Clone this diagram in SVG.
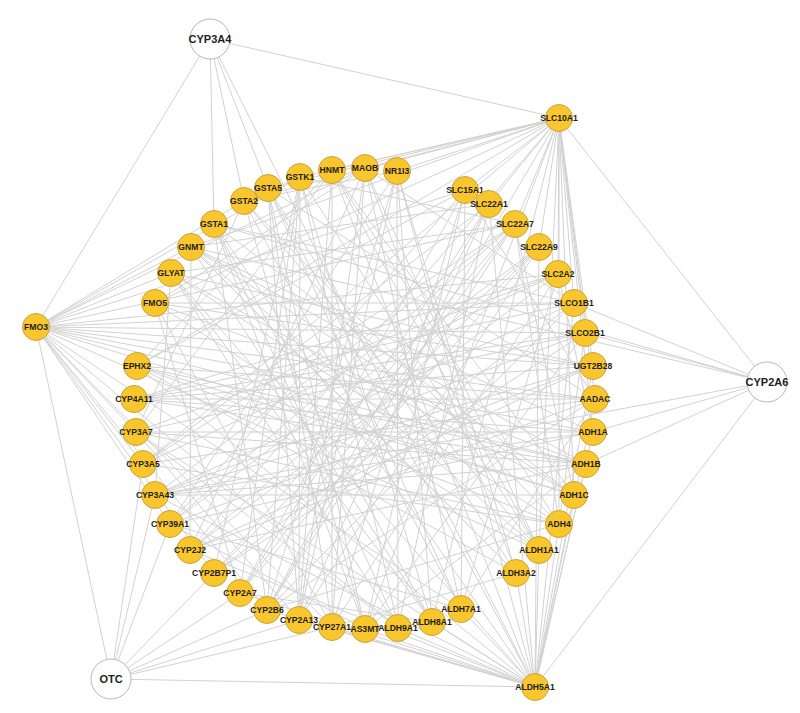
<svg xmlns="http://www.w3.org/2000/svg" width="800" height="713" viewBox="0 0 800 713">
<style>
.bg{fill:#ffffff}
#edges line{stroke:#d2d2d2;stroke-width:1;fill:none}
.node circle{fill:#f9c62e;stroke:#c9a43c;stroke-width:1}
.node text{font-family:"Liberation Sans",Arial,sans-serif;font-size:8.6px;font-weight:bold;fill:#1e1e1e;text-anchor:middle}
.outer circle{fill:#ffffff;stroke:#b8b8b8;stroke-width:1}
.outer text{font-family:"Liberation Sans",Arial,sans-serif;font-size:11px;font-weight:bold;fill:#1e1e1e;text-anchor:middle}
</style>
<rect class="bg" x="0" y="0" width="800" height="713"/>
<g id="edges">
<line x1="155" y1="303" x2="593" y2="366"/>
<line x1="171" y1="273" x2="515" y2="224"/>
<line x1="191" y1="247" x2="586" y2="464"/>
<line x1="214" y1="224" x2="574" y2="303"/>
<line x1="244" y1="201" x2="539" y2="550"/>
<line x1="268" y1="188" x2="595" y2="399"/>
<line x1="300" y1="177" x2="432" y2="622"/>
<line x1="332" y1="170" x2="574" y2="495"/>
<line x1="365" y1="168" x2="332" y2="627"/>
<line x1="397" y1="171" x2="516" y2="573"/>
<line x1="465" y1="190" x2="240" y2="593"/>
<line x1="489" y1="204" x2="398" y2="628"/>
<line x1="515" y1="224" x2="559" y2="524"/>
<line x1="539" y1="247" x2="299" y2="620"/>
<line x1="558" y1="274" x2="461" y2="609"/>
<line x1="574" y1="303" x2="214" y2="573"/>
<line x1="585" y1="333" x2="365" y2="629"/>
<line x1="593" y1="366" x2="155" y2="495"/>
<line x1="595" y1="399" x2="267" y2="610"/>
<line x1="593" y1="432" x2="134" y2="399"/>
<line x1="586" y1="464" x2="190" y2="550"/>
<line x1="574" y1="495" x2="171" y2="273"/>
<line x1="559" y1="524" x2="143" y2="464"/>
<line x1="539" y1="550" x2="332" y2="170"/>
<line x1="516" y1="573" x2="137" y2="366"/>
<line x1="461" y1="609" x2="170" y2="524"/>
<line x1="432" y1="622" x2="191" y2="247"/>
<line x1="398" y1="628" x2="136" y2="432"/>
<line x1="365" y1="629" x2="268" y2="188"/>
<line x1="332" y1="627" x2="155" y2="303"/>
<line x1="299" y1="620" x2="365" y2="168"/>
<line x1="267" y1="610" x2="214" y2="224"/>
<line x1="240" y1="593" x2="489" y2="204"/>
<line x1="214" y1="573" x2="300" y2="177"/>
<line x1="190" y1="550" x2="558" y2="274"/>
<line x1="170" y1="524" x2="397" y2="171"/>
<line x1="155" y1="495" x2="585" y2="333"/>
<line x1="143" y1="464" x2="515" y2="224"/>
<line x1="136" y1="432" x2="332" y2="170"/>
<line x1="134" y1="399" x2="574" y2="303"/>
<line x1="137" y1="366" x2="465" y2="190"/>
<line x1="155" y1="303" x2="586" y2="464"/>
<line x1="171" y1="273" x2="432" y2="622"/>
<line x1="191" y1="247" x2="574" y2="495"/>
<line x1="214" y1="224" x2="398" y2="628"/>
<line x1="244" y1="201" x2="559" y2="524"/>
<line x1="268" y1="188" x2="299" y2="620"/>
<line x1="300" y1="177" x2="539" y2="550"/>
<line x1="332" y1="170" x2="332" y2="627"/>
<line x1="365" y1="168" x2="516" y2="573"/>
<line x1="397" y1="171" x2="299" y2="620"/>
<line x1="465" y1="190" x2="461" y2="609"/>
<line x1="489" y1="204" x2="267" y2="610"/>
<line x1="515" y1="224" x2="170" y2="524"/>
<line x1="539" y1="247" x2="240" y2="593"/>
<line x1="558" y1="274" x2="136" y2="432"/>
<line x1="574" y1="303" x2="155" y2="495"/>
<line x1="585" y1="333" x2="134" y2="399"/>
<line x1="593" y1="366" x2="190" y2="550"/>
<line x1="595" y1="399" x2="137" y2="366"/>
<line x1="593" y1="432" x2="170" y2="524"/>
<line x1="586" y1="464" x2="136" y2="432"/>
<line x1="574" y1="495" x2="155" y2="495"/>
<line x1="559" y1="524" x2="171" y2="273"/>
<line x1="539" y1="550" x2="365" y2="168"/>
<line x1="516" y1="573" x2="191" y2="247"/>
<line x1="461" y1="609" x2="365" y2="168"/>
<line x1="432" y1="622" x2="214" y2="224"/>
<line x1="398" y1="628" x2="397" y2="171"/>
<line x1="365" y1="629" x2="244" y2="201"/>
<line x1="332" y1="627" x2="465" y2="190"/>
<line x1="299" y1="620" x2="300" y2="177"/>
<line x1="267" y1="610" x2="515" y2="224"/>
<line x1="240" y1="593" x2="300" y2="177"/>
<line x1="214" y1="573" x2="515" y2="224"/>
<line x1="190" y1="550" x2="595" y2="399"/>
<line x1="170" y1="524" x2="539" y2="247"/>
<line x1="155" y1="495" x2="593" y2="432"/>
<line x1="143" y1="464" x2="558" y2="274"/>
<line x1="136" y1="432" x2="593" y2="432"/>
<line x1="134" y1="399" x2="593" y2="366"/>
<line x1="137" y1="366" x2="574" y2="495"/>
<line x1="155" y1="303" x2="539" y2="550"/>
<line x1="171" y1="273" x2="398" y2="628"/>
<line x1="191" y1="247" x2="516" y2="573"/>
<line x1="214" y1="224" x2="365" y2="629"/>
<line x1="244" y1="201" x2="461" y2="609"/>
<line x1="268" y1="188" x2="332" y2="627"/>
<line x1="300" y1="177" x2="267" y2="610"/>
<line x1="332" y1="170" x2="299" y2="620"/>
<line x1="365" y1="168" x2="190" y2="550"/>
<line x1="397" y1="171" x2="267" y2="610"/>
<line x1="465" y1="190" x2="170" y2="524"/>
<line x1="489" y1="204" x2="143" y2="464"/>
<line x1="515" y1="224" x2="155" y2="495"/>
<line x1="539" y1="247" x2="214" y2="573"/>
<line x1="558" y1="274" x2="134" y2="399"/>
<line x1="574" y1="303" x2="155" y2="303"/>
<line x1="585" y1="333" x2="136" y2="432"/>
<line x1="593" y1="366" x2="171" y2="273"/>
<line x1="595" y1="399" x2="134" y2="399"/>
<line x1="593" y1="432" x2="191" y2="247"/>
<line x1="586" y1="464" x2="137" y2="366"/>
<line x1="574" y1="495" x2="214" y2="224"/>
<line x1="559" y1="524" x2="332" y2="170"/>
<line x1="539" y1="550" x2="191" y2="247"/>
<line x1="516" y1="573" x2="268" y2="188"/>
<line x1="461" y1="609" x2="268" y2="188"/>
<line x1="432" y1="622" x2="397" y2="171"/>
<line x1="398" y1="628" x2="300" y2="177"/>
<line x1="365" y1="629" x2="465" y2="190"/>
<line x1="332" y1="627" x2="558" y2="274"/>
<line x1="299" y1="620" x2="489" y2="204"/>
<line x1="267" y1="610" x2="574" y2="303"/>
<line x1="240" y1="593" x2="515" y2="224"/>
<line x1="214" y1="573" x2="585" y2="333"/>
<line x1="190" y1="550" x2="539" y2="247"/>
<line x1="170" y1="524" x2="593" y2="366"/>
<line x1="155" y1="495" x2="586" y2="464"/>
<line x1="143" y1="464" x2="595" y2="399"/>
<line x1="136" y1="432" x2="559" y2="524"/>
<line x1="134" y1="399" x2="586" y2="464"/>
<line x1="137" y1="366" x2="559" y2="524"/>
<line x1="155" y1="303" x2="365" y2="168"/>
<line x1="191" y1="247" x2="489" y2="204"/>
<line x1="244" y1="201" x2="397" y2="171"/>
<line x1="300" y1="177" x2="515" y2="224"/>
<line x1="365" y1="168" x2="574" y2="303"/>
<line x1="465" y1="190" x2="595" y2="399"/>
<line x1="515" y1="224" x2="574" y2="495"/>
<line x1="558" y1="274" x2="593" y2="432"/>
<line x1="585" y1="333" x2="559" y2="524"/>
<line x1="595" y1="399" x2="461" y2="609"/>
<line x1="586" y1="464" x2="365" y2="629"/>
<line x1="559" y1="524" x2="267" y2="610"/>
<line x1="516" y1="573" x2="332" y2="627"/>
<line x1="432" y1="622" x2="240" y2="593"/>
<line x1="365" y1="629" x2="170" y2="524"/>
<line x1="299" y1="620" x2="136" y2="432"/>
<line x1="240" y1="593" x2="155" y2="303"/>
<line x1="190" y1="550" x2="191" y2="247"/>
<line x1="155" y1="495" x2="171" y2="273"/>
<line x1="136" y1="432" x2="244" y2="201"/>
<line x1="137" y1="366" x2="332" y2="170"/>
<line x1="36" y1="327" x2="171" y2="273"/>
<line x1="36" y1="327" x2="191" y2="247"/>
<line x1="36" y1="327" x2="244" y2="201"/>
<line x1="36" y1="327" x2="300" y2="177"/>
<line x1="36" y1="327" x2="365" y2="168"/>
<line x1="36" y1="327" x2="465" y2="190"/>
<line x1="36" y1="327" x2="515" y2="224"/>
<line x1="36" y1="327" x2="558" y2="274"/>
<line x1="36" y1="327" x2="574" y2="303"/>
<line x1="36" y1="327" x2="585" y2="333"/>
<line x1="36" y1="327" x2="593" y2="366"/>
<line x1="36" y1="327" x2="595" y2="399"/>
<line x1="36" y1="327" x2="593" y2="432"/>
<line x1="36" y1="327" x2="586" y2="464"/>
<line x1="36" y1="327" x2="574" y2="495"/>
<line x1="36" y1="327" x2="539" y2="550"/>
<line x1="36" y1="327" x2="461" y2="609"/>
<line x1="36" y1="327" x2="398" y2="628"/>
<line x1="36" y1="327" x2="332" y2="627"/>
<line x1="36" y1="327" x2="267" y2="610"/>
<line x1="36" y1="327" x2="214" y2="573"/>
<line x1="36" y1="327" x2="170" y2="524"/>
<line x1="36" y1="327" x2="143" y2="464"/>
<line x1="36" y1="327" x2="136" y2="432"/>
<line x1="36" y1="327" x2="210" y2="39"/>
<line x1="36" y1="327" x2="111" y2="679"/>
<line x1="559" y1="118" x2="155" y2="303"/>
<line x1="559" y1="118" x2="191" y2="247"/>
<line x1="559" y1="118" x2="244" y2="201"/>
<line x1="559" y1="118" x2="268" y2="188"/>
<line x1="559" y1="118" x2="300" y2="177"/>
<line x1="559" y1="118" x2="332" y2="170"/>
<line x1="559" y1="118" x2="365" y2="168"/>
<line x1="559" y1="118" x2="397" y2="171"/>
<line x1="559" y1="118" x2="465" y2="190"/>
<line x1="559" y1="118" x2="489" y2="204"/>
<line x1="559" y1="118" x2="515" y2="224"/>
<line x1="559" y1="118" x2="539" y2="247"/>
<line x1="559" y1="118" x2="558" y2="274"/>
<line x1="559" y1="118" x2="574" y2="303"/>
<line x1="559" y1="118" x2="585" y2="333"/>
<line x1="559" y1="118" x2="593" y2="366"/>
<line x1="559" y1="118" x2="595" y2="399"/>
<line x1="559" y1="118" x2="593" y2="432"/>
<line x1="559" y1="118" x2="574" y2="495"/>
<line x1="559" y1="118" x2="559" y2="524"/>
<line x1="559" y1="118" x2="539" y2="550"/>
<line x1="559" y1="118" x2="432" y2="622"/>
<line x1="559" y1="118" x2="365" y2="629"/>
<line x1="559" y1="118" x2="267" y2="610"/>
<line x1="559" y1="118" x2="190" y2="550"/>
<line x1="559" y1="118" x2="143" y2="464"/>
<line x1="559" y1="118" x2="137" y2="366"/>
<line x1="559" y1="118" x2="210" y2="39"/>
<line x1="559" y1="118" x2="767" y2="382"/>
<line x1="535" y1="687" x2="171" y2="273"/>
<line x1="535" y1="687" x2="214" y2="224"/>
<line x1="535" y1="687" x2="268" y2="188"/>
<line x1="535" y1="687" x2="332" y2="170"/>
<line x1="535" y1="687" x2="397" y2="171"/>
<line x1="535" y1="687" x2="489" y2="204"/>
<line x1="535" y1="687" x2="539" y2="247"/>
<line x1="535" y1="687" x2="574" y2="303"/>
<line x1="535" y1="687" x2="593" y2="366"/>
<line x1="535" y1="687" x2="595" y2="399"/>
<line x1="535" y1="687" x2="593" y2="432"/>
<line x1="535" y1="687" x2="586" y2="464"/>
<line x1="535" y1="687" x2="574" y2="495"/>
<line x1="535" y1="687" x2="559" y2="524"/>
<line x1="535" y1="687" x2="539" y2="550"/>
<line x1="535" y1="687" x2="516" y2="573"/>
<line x1="535" y1="687" x2="461" y2="609"/>
<line x1="535" y1="687" x2="432" y2="622"/>
<line x1="535" y1="687" x2="398" y2="628"/>
<line x1="535" y1="687" x2="365" y2="629"/>
<line x1="535" y1="687" x2="332" y2="627"/>
<line x1="535" y1="687" x2="299" y2="620"/>
<line x1="535" y1="687" x2="267" y2="610"/>
<line x1="535" y1="687" x2="240" y2="593"/>
<line x1="535" y1="687" x2="190" y2="550"/>
<line x1="535" y1="687" x2="155" y2="495"/>
<line x1="535" y1="687" x2="136" y2="432"/>
<line x1="535" y1="687" x2="137" y2="366"/>
<line x1="535" y1="687" x2="111" y2="679"/>
<line x1="535" y1="687" x2="767" y2="382"/>
<line x1="535" y1="687" x2="210" y2="39"/>
<line x1="111" y1="679" x2="143" y2="464"/>
<line x1="111" y1="679" x2="155" y2="495"/>
<line x1="111" y1="679" x2="170" y2="524"/>
<line x1="111" y1="679" x2="214" y2="573"/>
<line x1="111" y1="679" x2="240" y2="593"/>
<line x1="111" y1="679" x2="267" y2="610"/>
<line x1="111" y1="679" x2="299" y2="620"/>
<line x1="111" y1="679" x2="332" y2="627"/>
<line x1="767" y1="382" x2="574" y2="303"/>
<line x1="767" y1="382" x2="585" y2="333"/>
<line x1="767" y1="382" x2="214" y2="224"/>
<line x1="767" y1="382" x2="191" y2="247"/>
<line x1="767" y1="382" x2="593" y2="432"/>
<line x1="767" y1="382" x2="586" y2="464"/>
<line x1="767" y1="382" x2="155" y2="495"/>
<line x1="210" y1="39" x2="214" y2="224"/>
<line x1="210" y1="39" x2="244" y2="201"/>
<line x1="210" y1="39" x2="268" y2="188"/>
</g>
<g id="n-CYP3A4" class="outer"><circle cx="210" cy="39" r="20"/><text x="210" y="43">CYP3A4</text></g>
<g id="n-CYP2A6" class="outer"><circle cx="767" cy="382" r="20"/><text x="767" y="386">CYP2A6</text></g>
<g id="n-OTC" class="outer"><circle cx="111" cy="679" r="20"/><text x="111" y="683">OTC</text></g>
<g id="n-FMO3" class="node"><circle cx="36" cy="327" r="13.5"/><text x="36" y="330">FMO3</text></g>
<g id="n-SLC10A1" class="node"><circle cx="559" cy="118" r="13.5"/><text x="559" y="121">SLC10A1</text></g>
<g id="n-ALDH5A1" class="node"><circle cx="535" cy="687" r="13.5"/><text x="535" y="690">ALDH5A1</text></g>
<g id="n-FMO5" class="node"><circle cx="155" cy="303" r="13.5"/><text x="155" y="306">FMO5</text></g>
<g id="n-GLYAT" class="node"><circle cx="171" cy="273" r="13.5"/><text x="171" y="276">GLYAT</text></g>
<g id="n-GNMT" class="node"><circle cx="191" cy="247" r="13.5"/><text x="191" y="250">GNMT</text></g>
<g id="n-GSTA1" class="node"><circle cx="214" cy="224" r="13.5"/><text x="214" y="227">GSTA1</text></g>
<g id="n-GSTA2" class="node"><circle cx="244" cy="201" r="13.5"/><text x="244" y="204">GSTA2</text></g>
<g id="n-GSTA5" class="node"><circle cx="268" cy="188" r="13.5"/><text x="268" y="191">GSTA5</text></g>
<g id="n-GSTK1" class="node"><circle cx="300" cy="177" r="13.5"/><text x="300" y="180">GSTK1</text></g>
<g id="n-HNMT" class="node"><circle cx="332" cy="170" r="13.5"/><text x="332" y="173">HNMT</text></g>
<g id="n-MAOB" class="node"><circle cx="365" cy="168" r="13.5"/><text x="365" y="171">MAOB</text></g>
<g id="n-NR1I3" class="node"><circle cx="397" cy="171" r="13.5"/><text x="397" y="174">NR1I3</text></g>
<g id="n-SLC15A1" class="node"><circle cx="465" cy="190" r="13.5"/><text x="465" y="193">SLC15A1</text></g>
<g id="n-SLC22A1" class="node"><circle cx="489" cy="204" r="13.5"/><text x="489" y="207">SLC22A1</text></g>
<g id="n-SLC22A7" class="node"><circle cx="515" cy="224" r="13.5"/><text x="515" y="227">SLC22A7</text></g>
<g id="n-SLC22A9" class="node"><circle cx="539" cy="247" r="13.5"/><text x="539" y="250">SLC22A9</text></g>
<g id="n-SLC2A2" class="node"><circle cx="558" cy="274" r="13.5"/><text x="558" y="277">SLC2A2</text></g>
<g id="n-SLCO1B1" class="node"><circle cx="574" cy="303" r="13.5"/><text x="574" y="306">SLCO1B1</text></g>
<g id="n-SLCO2B1" class="node"><circle cx="585" cy="333" r="13.5"/><text x="585" y="336">SLCO2B1</text></g>
<g id="n-UGT2B28" class="node"><circle cx="593" cy="366" r="13.5"/><text x="593" y="369">UGT2B28</text></g>
<g id="n-AADAC" class="node"><circle cx="595" cy="399" r="13.5"/><text x="595" y="402">AADAC</text></g>
<g id="n-ADH1A" class="node"><circle cx="593" cy="432" r="13.5"/><text x="593" y="435">ADH1A</text></g>
<g id="n-ADH1B" class="node"><circle cx="586" cy="464" r="13.5"/><text x="586" y="467">ADH1B</text></g>
<g id="n-ADH1C" class="node"><circle cx="574" cy="495" r="13.5"/><text x="574" y="498">ADH1C</text></g>
<g id="n-ADH4" class="node"><circle cx="559" cy="524" r="13.5"/><text x="559" y="527">ADH4</text></g>
<g id="n-ALDH1A1" class="node"><circle cx="539" cy="550" r="13.5"/><text x="539" y="553">ALDH1A1</text></g>
<g id="n-ALDH3A2" class="node"><circle cx="516" cy="573" r="13.5"/><text x="516" y="576">ALDH3A2</text></g>
<g id="n-ALDH7A1" class="node"><circle cx="461" cy="609" r="13.5"/><text x="461" y="612">ALDH7A1</text></g>
<g id="n-ALDH8A1" class="node"><circle cx="432" cy="622" r="13.5"/><text x="432" y="625">ALDH8A1</text></g>
<g id="n-ALDH9A1" class="node"><circle cx="398" cy="628" r="13.5"/><text x="398" y="631">ALDH9A1</text></g>
<g id="n-AS3MT" class="node"><circle cx="365" cy="629" r="13.5"/><text x="365" y="632">AS3MT</text></g>
<g id="n-CYP27A1" class="node"><circle cx="332" cy="627" r="13.5"/><text x="332" y="630">CYP27A1</text></g>
<g id="n-CYP2A13" class="node"><circle cx="299" cy="620" r="13.5"/><text x="299" y="623">CYP2A13</text></g>
<g id="n-CYP2B6" class="node"><circle cx="267" cy="610" r="13.5"/><text x="267" y="613">CYP2B6</text></g>
<g id="n-CYP2A7" class="node"><circle cx="240" cy="593" r="13.5"/><text x="240" y="596">CYP2A7</text></g>
<g id="n-CYP2B7P1" class="node"><circle cx="214" cy="573" r="13.5"/><text x="214" y="576">CYP2B7P1</text></g>
<g id="n-CYP2J2" class="node"><circle cx="190" cy="550" r="13.5"/><text x="190" y="553">CYP2J2</text></g>
<g id="n-CYP39A1" class="node"><circle cx="170" cy="524" r="13.5"/><text x="170" y="527">CYP39A1</text></g>
<g id="n-CYP3A43" class="node"><circle cx="155" cy="495" r="13.5"/><text x="155" y="498">CYP3A43</text></g>
<g id="n-CYP3A5" class="node"><circle cx="143" cy="464" r="13.5"/><text x="143" y="467">CYP3A5</text></g>
<g id="n-CYP3A7" class="node"><circle cx="136" cy="432" r="13.5"/><text x="136" y="435">CYP3A7</text></g>
<g id="n-CYP4A11" class="node"><circle cx="134" cy="399" r="13.5"/><text x="134" y="402">CYP4A11</text></g>
<g id="n-EPHX2" class="node"><circle cx="137" cy="366" r="13.5"/><text x="137" y="369">EPHX2</text></g>
</svg>
